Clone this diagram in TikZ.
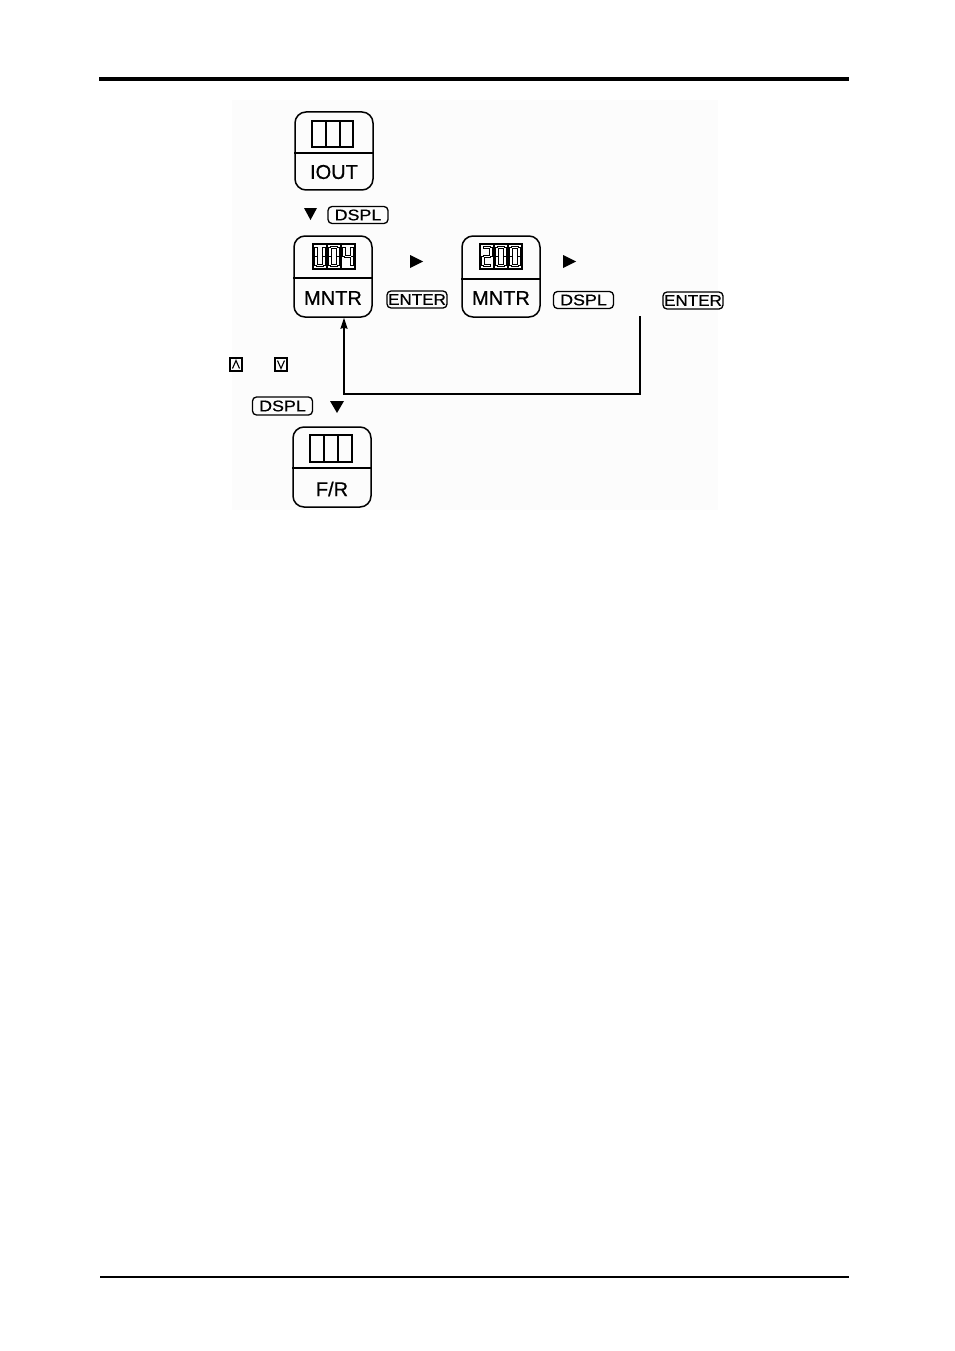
\documentclass[tikz,border=0pt]{standalone}
\usepackage{fontspec}
\setmainfont{Liberation Sans}[FakeBold=0.6]
\usepackage{graphicx}
\usetikzlibrary{arrows.meta}
\tikzset{
  panel/.style={draw, line width=1.5pt, rounded corners=11pt, minimum width=78pt, inner sep=0pt},
  keybox/.style={draw, line width=1.3pt, rounded corners=4pt, minimum width=60pt, minimum height=17pt, inner sep=0pt, font=\fontsize{15.5}{15.5}\selectfont},
  lbl/.style={inner sep=0pt, font=\fontsize{20}{20}\selectfont},
  disp/.style={line width=1.3pt},
  seg/.style={line width=1.1pt, double=white, double distance=1.4pt, line cap=rect},
  tri/.style={fill=black},
  conn/.style={line width=1.3pt},
  smallkey/.style={draw, line width=1.2pt, minimum width=12pt, minimum height=13pt, inner sep=0pt},
}
\begin{document}
\begin{tikzpicture}[x=1pt,y=-1pt]
\useasboundingbox (0,0) rectangle (954,1351);
\fill[black!1] (232,100) rectangle (718,510);
% rules
\draw[line width=4pt] (99,79) -- (849,79);
\draw[line width=1.3pt] (100,1277) -- (849,1277);

% IOUT panel
\node[panel, minimum height=78pt] (iout) at (334,151) {};
\draw[line width=1.1pt] (iout.west |- 0,153) -- (iout.east |- 0,153);
\draw[disp] (312,121) rectangle (353,147) (326,121) -- (326,147) (340,121) -- (340,147);
\node[lbl] (ioutl) at (334,172) {IOUT};

\fill[tri] (304,208) -- (317,208) -- (310.5,220) -- cycle;
\node[keybox] (dspl1) at (358,215) {\scalebox{1.15}[1]{DSPL}};

% MNTR 1
\node[panel, minimum height=81pt] (m1) at (333,276.5) {};
\draw[line width=1.1pt] (m1.west |- 0,278) -- (m1.east |- 0,278);
\draw[disp] (313,244) rectangle (355,269) (327,244) -- (327,269) (341,244) -- (341,269);
\begin{scope}[shift={(313,244)}]% U
  \draw[seg] (11,4.5)--(11,11.3) (11,13.7)--(11,20) (4.5,21.5)--(9.5,21.5) (3,13.7)--(3,20) (3,4.5)--(3,11.3);
\end{scope}
\begin{scope}[shift={(327,244)}]% 0
  \draw[seg] (4.5,3.5)--(9.5,3.5) (11,4.5)--(11,11.3) (11,13.7)--(11,20) (4.5,21.5)--(9.5,21.5) (3,13.7)--(3,20) (3,4.5)--(3,11.3);
\end{scope}
\begin{scope}[shift={(341,244)}]% 4
  \draw[seg] (3,4.5)--(3,11.3) (11,4.5)--(11,11.3) (4.5,12.5)--(9.5,12.5) (11,13.7)--(11,20);
\end{scope}
\node[lbl] (m1l) at (333,298) {MNTR};

\fill[tri] (410,255) -- (410,268) -- (423,261.5) -- cycle;
\node[keybox] (enter1) at (417,299.5) {\scalebox{1.1}[1]{ENTER}};

% MNTR 2
\node[panel, minimum height=81pt] (m2) at (501,276.5) {};
\draw[line width=1.1pt] (m2.west |- 0,279) -- (m2.east |- 0,279);
\draw[disp] (480,244) rectangle (522,269) (494,244) -- (494,269) (508,244) -- (508,269);
\begin{scope}[shift={(480,244)}]% 2
  \draw[seg] (4.5,3.5)--(9.5,3.5) (11,4.5)--(11,11.3) (4.5,12.5)--(9.5,12.5) (3,13.7)--(3,20) (4.5,21.5)--(9.5,21.5);
\end{scope}
\begin{scope}[shift={(494,244)}]% 0
  \draw[seg] (4.5,3.5)--(9.5,3.5) (11,4.5)--(11,11.3) (11,13.7)--(11,20) (4.5,21.5)--(9.5,21.5) (3,13.7)--(3,20) (3,4.5)--(3,11.3);
\end{scope}
\begin{scope}[shift={(508,244)}]% 0
  \draw[seg] (4.5,3.5)--(9.5,3.5) (11,4.5)--(11,11.3) (11,13.7)--(11,20) (4.5,21.5)--(9.5,21.5) (3,13.7)--(3,20) (3,4.5)--(3,11.3);
\end{scope}
\node[lbl] (m2l) at (501,298) {MNTR};

\fill[tri] (563,255) -- (563,268) -- (576,261.5) -- cycle;
\node[keybox] (dspl2) at (583.5,300) {\scalebox{1.15}[1]{DSPL}};
\node[keybox] (enter2) at (693,300.5) {\scalebox{1.1}[1]{ENTER}};

% loop connector
\coordinate (ls) at (640,316);
\coordinate (lc) at (344,394);
\draw[conn, -{Stealth[length=11pt,width=7pt,inset=1pt]}] (ls) -- (ls |- lc) -- (lc) -- (lc |- m1.south);

% up/down keys
\node[smallkey] (up) at (236,364.5) {};
\draw[line width=1.1pt] ([shift={(-3.5,4)}]up.center) -- ([shift={(0,-4)}]up.center) -- ([shift={(3.5,4)}]up.center);
\node[smallkey] (dn) at (281,364.5) {};
\draw[line width=1.1pt] ([shift={(-3.5,-4)}]dn.center) -- ([shift={(0,4)}]dn.center) -- ([shift={(3.5,-4)}]dn.center);

\node[keybox, minimum height=18pt] (dspl3) at (282.5,406) {\scalebox{1.15}[1]{DSPL}};
\fill[tri] (330,401) -- (344,401) -- (337,413) -- cycle;

% F/R panel
\node[panel, minimum height=80pt] (fr) at (332,467) {};
\draw[line width=1.1pt] (fr.west |- 0,468) -- (fr.east |- 0,468);
\draw[disp] (310,435) rectangle (352,462) (324,435) -- (324,462) (338,435) -- (338,462);
\node[lbl] (frl) at (332,489) {F/R};
\end{tikzpicture}
\end{document}
